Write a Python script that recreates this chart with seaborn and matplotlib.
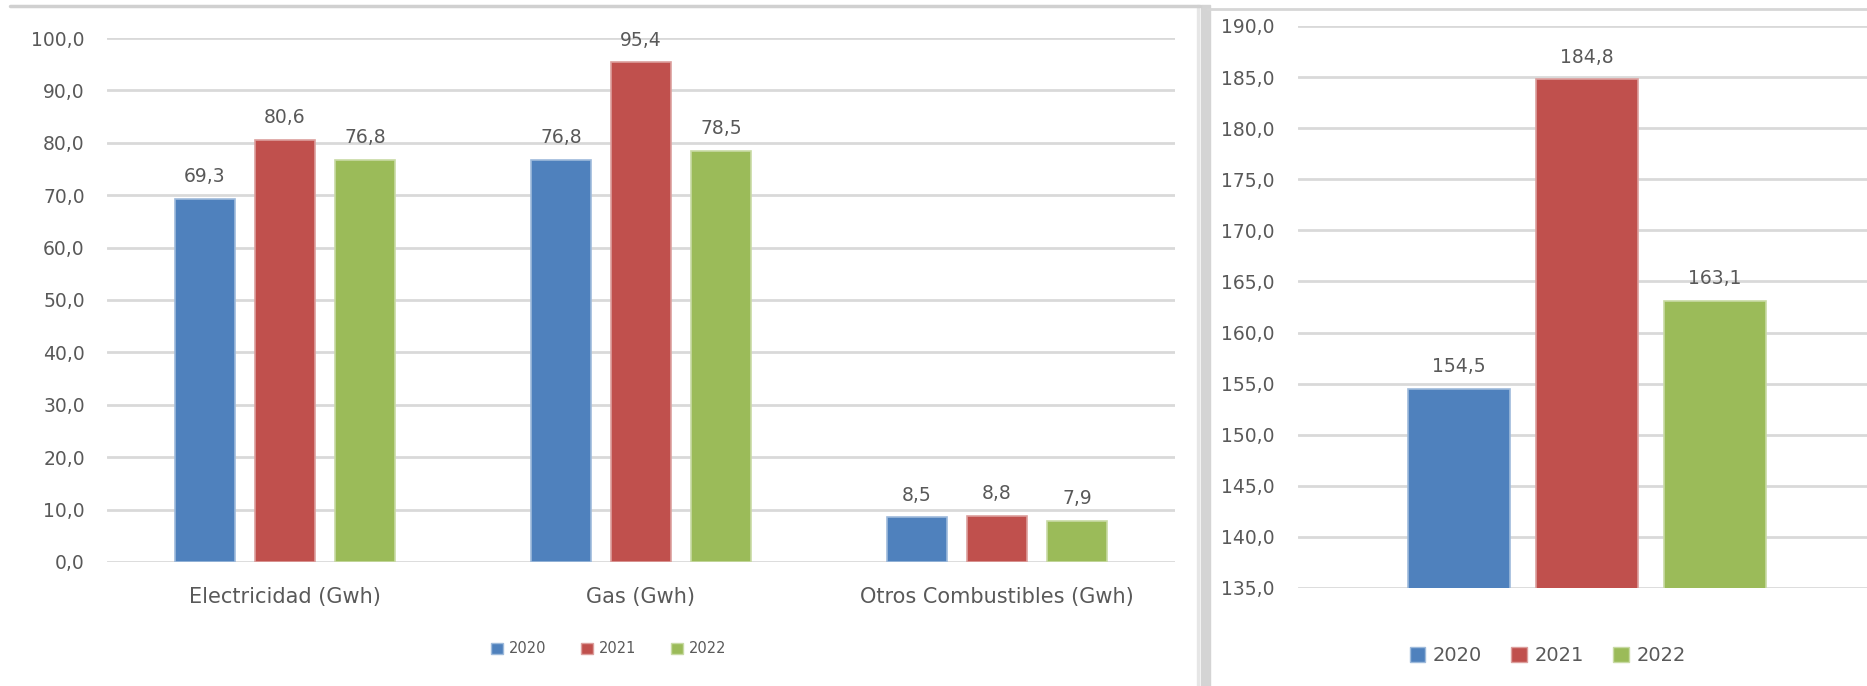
import numpy as np
import pandas as pd
import matplotlib
matplotlib.use("Agg")
import matplotlib.pyplot as plt
from matplotlib.patches import Rectangle, Patch
from matplotlib.lines import Line2D
from matplotlib.ticker import FuncFormatter, MultipleLocator
import seaborn as sns

# data
categories = ["Electricidad (Gwh)", "Gas (Gwh)", "Otros Combustibles (Gwh)"]
years = ["2020", "2021", "2022"]
v2020 = [69.3, 76.8, 8.5]
v2021 = [80.6, 95.4, 8.8]
v2022 = [76.8, 78.5, 7.9]
total_years = ["2020", "2021", "2022"]
total_values = [154.5, 184.8, 163.1]

colors = ["#4F81BD", "#C0504D", "#9BBB59"]
text_color = "#595959"
grid_color = "#d9d9d9"

sns.set_theme(style="white")
plt.rcParams["font.family"] = ["DejaVu Sans"]


def comma(v, pos=None):
    return f"{v:.1f}".replace(".", ",")


def lighten(c, f=0.5):
    rgb = np.array(matplotlib.colors.to_rgb(c))
    return tuple(rgb + (1 - rgb) * f)


def style_axes(ax, fs, pad):
    for s in ax.spines.values():
        s.set_visible(False)
    ax.yaxis.grid(True, color=grid_color, linewidth=2)
    ax.set_axisbelow(True)
    ax.yaxis.set_major_formatter(FuncFormatter(comma))
    ax.tick_params(axis="y", length=0, pad=pad, labelsize=fs, labelcolor=text_color)
    ax.tick_params(axis="x", length=0, labelcolor=text_color)
    ax.set_xlabel("")
    ax.set_ylabel("")
    for bar in ax.patches:
        fc = bar.get_facecolor()
        bar.set_edgecolor(lighten(fc, 0.45))
        bar.set_linewidth(1.2)


df = pd.DataFrame({
    "cat": categories * 3,
    "year": [y for y in years for _ in categories],
    "val": v2020 + v2021 + v2022,
})
df_tot = pd.DataFrame({"cat": ["Total"] * 3, "year": total_years, "val": total_values})

fig = plt.figure(figsize=(18.67, 6.86), dpi=100)

# left chart
ax1 = fig.add_axes([0.0573, 0.1808, 0.572, 0.7638])
sns.barplot(data=df, x="cat", y="val", hue="year", palette=colors, width=0.675,
            gap=0.25, saturation=1, ax=ax1, legend=False)
ax1.set_ylim(0, 100)
ax1.set_xlim(-0.5, 2.5)
ax1.yaxis.set_major_locator(MultipleLocator(10))
style_axes(ax1, 13.5, 16)
ax1.tick_params(axis="x", pad=18, labelsize=15)
for cont in ax1.containers:
    ax1.bar_label(cont, labels=[comma(v) for v in cont.datavalues], padding=9,
                  fontsize=13.5, color=text_color)

handles = [Patch(facecolor=c, edgecolor=lighten(c, 0.45)) for c in colors]
fig.legend(handles, years, loc="center", bbox_to_anchor=(0.326, 0.054), ncol=3,
           frameon=False, fontsize=10.5, handlelength=0.8, handleheight=0.8,
           columnspacing=2.4, handletextpad=0.4, labelcolor=text_color)

# right chart
ax2 = fig.add_axes([0.6952, 0.1429, 0.3096, 0.8192])
sns.barplot(data=df_tot, x="cat", y="val", hue="year", palette=colors, width=0.665,
            gap=0.2, saturation=1, ax=ax2, legend=False)
ax2.set_ylim(135, 190)
ax2.set_xlim(-0.5, 0.5)
ax2.yaxis.set_major_locator(MultipleLocator(5))
style_axes(ax2, 13.5, 17)
ax2.set_xticks([])
for cont in ax2.containers:
    ax2.bar_label(cont, labels=[comma(v) for v in cont.datavalues], padding=9,
                  fontsize=13.5, color=text_color)

fig.legend(handles, total_years, loc="center", bbox_to_anchor=(0.829, 0.044), ncol=3,
           frameon=False, fontsize=14, handlelength=0.8, handleheight=0.8,
           columnspacing=1.5, handletextpad=0.4, labelcolor=text_color)

# chart frames (excel-like borders)
W, H = 1867, 686
fig.add_artist(Line2D([10 / W, 1200 / W], [1 - 6 / H] * 2, color="#d0d0d0", lw=2.5,
                      transform=fig.transFigure))
fig.add_artist(Line2D([1207 / W, 1.0], [1 - 9 / H] * 2, color="#d6d6d6", lw=2,
                      transform=fig.transFigure))
fig.add_artist(Rectangle((1197 / W, 0), 2 / W, 1 - 5 / H, color="#e6e6e6",
                         transform=fig.transFigure))
fig.add_artist(Rectangle((1201 / W, 0), 9 / W, 1 - 5 / H, color="#d4d4d4",
                         transform=fig.transFigure))

fig.savefig("out.png", dpi=100, facecolor="white")
